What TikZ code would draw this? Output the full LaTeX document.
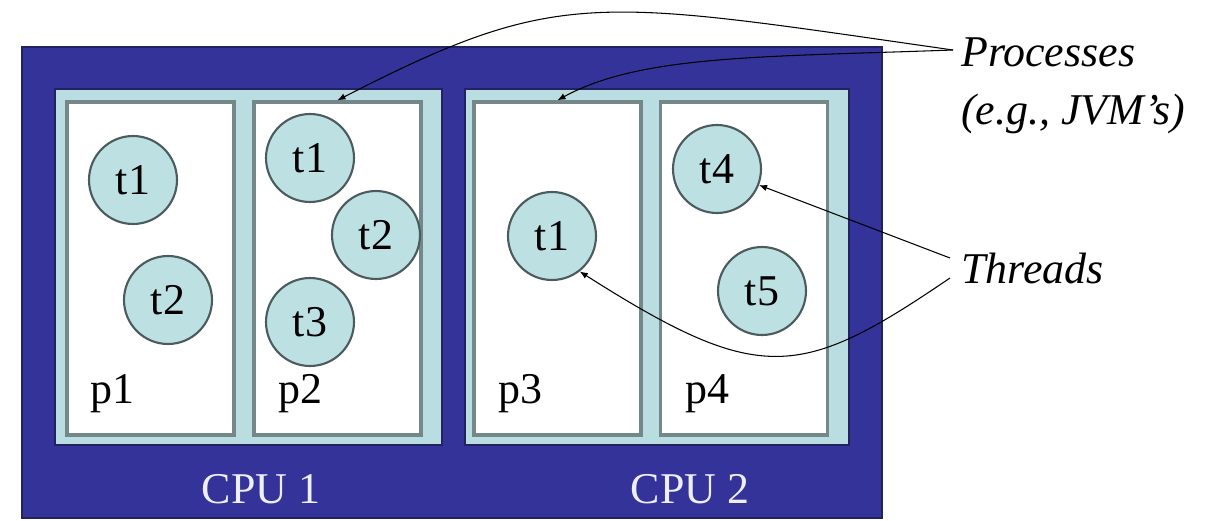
\documentclass[tikz,border=0pt]{standalone}
\usepackage{fontspec}
\setmainfont{Liberation Serif}
\usetikzlibrary{arrows.meta}
\definecolor{cpublue}{HTML}{333399}
\definecolor{cpuedge}{HTML}{22225E}
\definecolor{framecyan}{HTML}{B9DDE0}
\definecolor{procgray}{HTML}{74888A}
\definecolor{threadfill}{HTML}{BDE0E3}
\definecolor{threadedge}{HTML}{4C5C5E}
\definecolor{cpulabel}{HTML}{EEEEFF}

\begin{document}
\begin{tikzpicture}[x=0.02cm, y=-0.02cm, every node/.style={font=\fontsize{25}{33}\selectfont}, >={Latex[length=1.6mm, width=1.3mm]},
	cpuframe/.style={draw=cpuedge, line width=1.5pt, fill=framecyan, minimum height=7.12cm, inner sep=0pt},
	proc/.style={draw=procgray, line width=2pt, fill=white, minimum width=3.34cm, minimum height=6.66cm, inner sep=0pt},
	thread/.style={circle, draw=threadedge, line width=1.2pt, fill=threadfill, minimum size=1.76cm, inner sep=0pt},
	link/.style={->, line width=0.6pt}]
	\useasboundingbox (0,0) rectangle (1215,521);
	\node (sys) [draw=cpuedge, line width=1pt, fill=cpublue, minimum width=17.2cm, minimum height=9.42cm, inner sep=0pt] at (452,282.5) {};
	\node (cpuA) [cpuframe, minimum width=7.74cm] at (248.5,267) {};
	\node (cpuB) [cpuframe, minimum width=7.68cm] at (657,267) {};
	\node (p1) [proc] at (150.5,268.5) {};
	\node (p2) [proc] at (337.5,268.5) {};
	\node (p3) [proc] at (557.5,268.5) {};
	\node (p4) [proc] at (744,268.5) {};
	\node (p1t1) [thread] at (133,180) {t1};
	\node (p1t2) [thread] at (168,300) {t2};
	\node (p2t1) [thread] at (310,158) {t1};
	\node (p2t2) [thread] at (376,235) {t2};
	\node (p2t3) [thread] at (310,322) {t3};
	\node (p3t1) [thread] at (552,236) {t1};
	\node (p4t4) [thread] at (717,169) {t4};
	\node (p4t5) [thread] at (762,291) {t5};
	\node (p1lab) at (112,394) {p1};
	\node (p2lab) at (300,394) {p2};
	\node (p3lab) at (520,394) {p3};
	\node (p4lab) at (707,394) {p4};
	\node (cpu1lab) [text=cpulabel] at (261,489) {CPU 1};
	\node (cpu2lab) [text=cpulabel] at (690,489) {CPU 2};
	\node (procs) [anchor=west, align=left, font=\fontsize{25}{33}\selectfont\itshape] at (955,86) {Processes\\(e.g., JVM's)};
	\node (thr) [anchor=west, font=\fontsize{25}{33}\selectfont\itshape] at (955,268) {Threads};
	\coordinate (pj) at (953,50);
	\coordinate (thrA) at (950,258);
	\coordinate (thrB) at (950,278);
	\draw[link] (pj) .. controls (596,-1) and (560,-14) .. (p2.north);
	\draw[link] (pj) .. controls (760,57) and (640,55) .. (p3.north);
	\draw[link] (thrA) -- (p4t4);
	\draw[link] (thrB) .. controls (800,380) and (760,386) .. (p3t1.-52);
\end{tikzpicture}
\end{document}
